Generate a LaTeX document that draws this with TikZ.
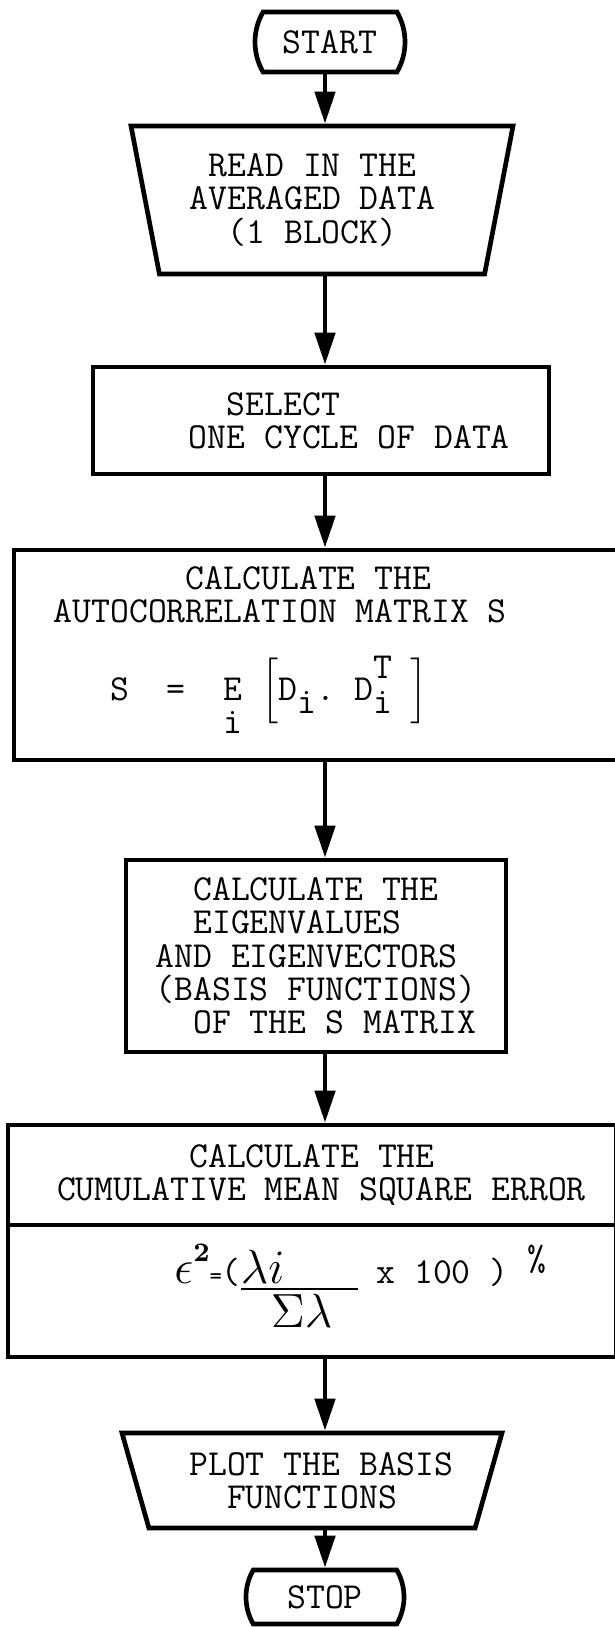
\documentclass[tikz,border=0pt]{standalone}
\usepackage{amsmath}
\usepackage{tikz}
\usetikzlibrary{shapes.geometric,shapes.misc,arrows.meta}

\begin{document}
\begin{tikzpicture}[
  x=0.3pt, y=-0.3pt,
  every node/.style={font=\ttfamily\fontsize{11}{10}\selectfont},
  termbox/.style={draw, rounded rectangle, rounded rectangle arc length=60,
                  line width=1.4pt, inner sep=0pt},
  procbox/.style={draw, rectangle, line width=1.4pt, align=left, inner sep=2pt},
  iobox/.style={draw, trapezium, shape border rotate=180, trapezium stretches body,
                line width=1.4pt, align=center, inner sep=2pt},
  arrow/.style={-{Triangle[length=9.6pt,width=6pt]}, line width=1.4pt}
]
  \useasboundingbox (0,0) rectangle (615,1627);
  \coordinate (axis) at (325,0);

  \node[termbox, minimum width=45pt, minimum height=18pt] (start) at (330,42) {START};
  \node[iobox, trapezium angle=75, minimum width=114.6pt, minimum height=44.4pt] (read) at (322,200)
    {READ IN THE\phantom{X}\\AVERAGED DATA\phantom{X}\\(1 BLOCK)\phantom{X}};
  \node[procbox, minimum width=136.8pt, minimum height=32.1pt] (select) at (321,420.5)
    {\phantom{XXXXX}SELECT\\\phantom{XXX}ONE CYCLE OF DATA};
  \node[procbox, minimum width=182.4pt, minimum height=63pt] (autocorr) at (318,655)
    {\phantom{XXXXXXX}CALCULATE THE\\
     AUTOCORRELATION MATRIX S\phantom{XXXX}\\[9pt]
     \phantom{XXX}S\phantom{XX}=\phantom{XX}\begin{tabular}[t]{@{}c@{}}E\\ i\end{tabular}\ $\Bigl[$D\lower4pt\hbox{i}.\ D\lower4pt\hbox{i}\hbox to 0pt{\hss\raise6.5pt\hbox{T}}\ $\Bigr]$};
  \node[procbox, minimum width=114pt, minimum height=57.6pt] (eigen) at (316,956)
    {\phantom{XX}CALCULATE THE\\\phantom{XX}EIGENVALUES\\AND EIGENVECTORS\\(BASIS FUNCTIONS)\\\phantom{XX}OF THE S MATRIX};
  \node[procbox, minimum width=182.4pt, minimum height=30pt] (cumhead) at (312,1175)
    {\phantom{XXXXXXXX}CALCULATE THE\\\phantom{X}CUMULATIVE MEAN SQUARE ERROR};
  \node[procbox, minimum width=182.4pt, minimum height=39.6pt] (cumform) at (312,1291)
    {\hspace*{29pt}{\Large$\epsilon$}\raise6.6pt\hbox{$\scriptstyle\mathbf{2}$}{\scriptsize=}(\begin{tabular}[t]{@{}l@{}}\underline{\makebox[35pt][l]{\Large$\lambda i$}}\\ \hspace{9pt}\Large$\Sigma\lambda$\end{tabular}\ x\ 100\ )\ \raisebox{4pt}{\%}};
  \node[iobox, trapezium angle=69, minimum width=114pt, minimum height=28.5pt, align=left] (plot) at (312,1480.5)
    {\phantom{X}PLOT THE BASIS\\\phantom{XXX}FUNCTIONS};
  \node[termbox, minimum width=47.4pt, minimum height=16.2pt] (stop) at (325,1597) {STOP};

  \draw[arrow] (start.south -| axis) -- (read.north -| axis);
  \draw[arrow] (read.south -| axis) -- (select.north -| axis);
  \draw[arrow] (select.south -| axis) -- (autocorr.north -| axis);
  \draw[arrow] (autocorr.south -| axis) -- (eigen.north -| axis);
  \draw[arrow] (eigen.south -| axis) -- (cumhead.north -| axis);
  \draw[arrow] (cumform.south -| axis) -- (plot.north -| axis);
  \draw[arrow] (plot.south -| axis) -- (stop.north -| axis);
\end{tikzpicture}
\end{document}
